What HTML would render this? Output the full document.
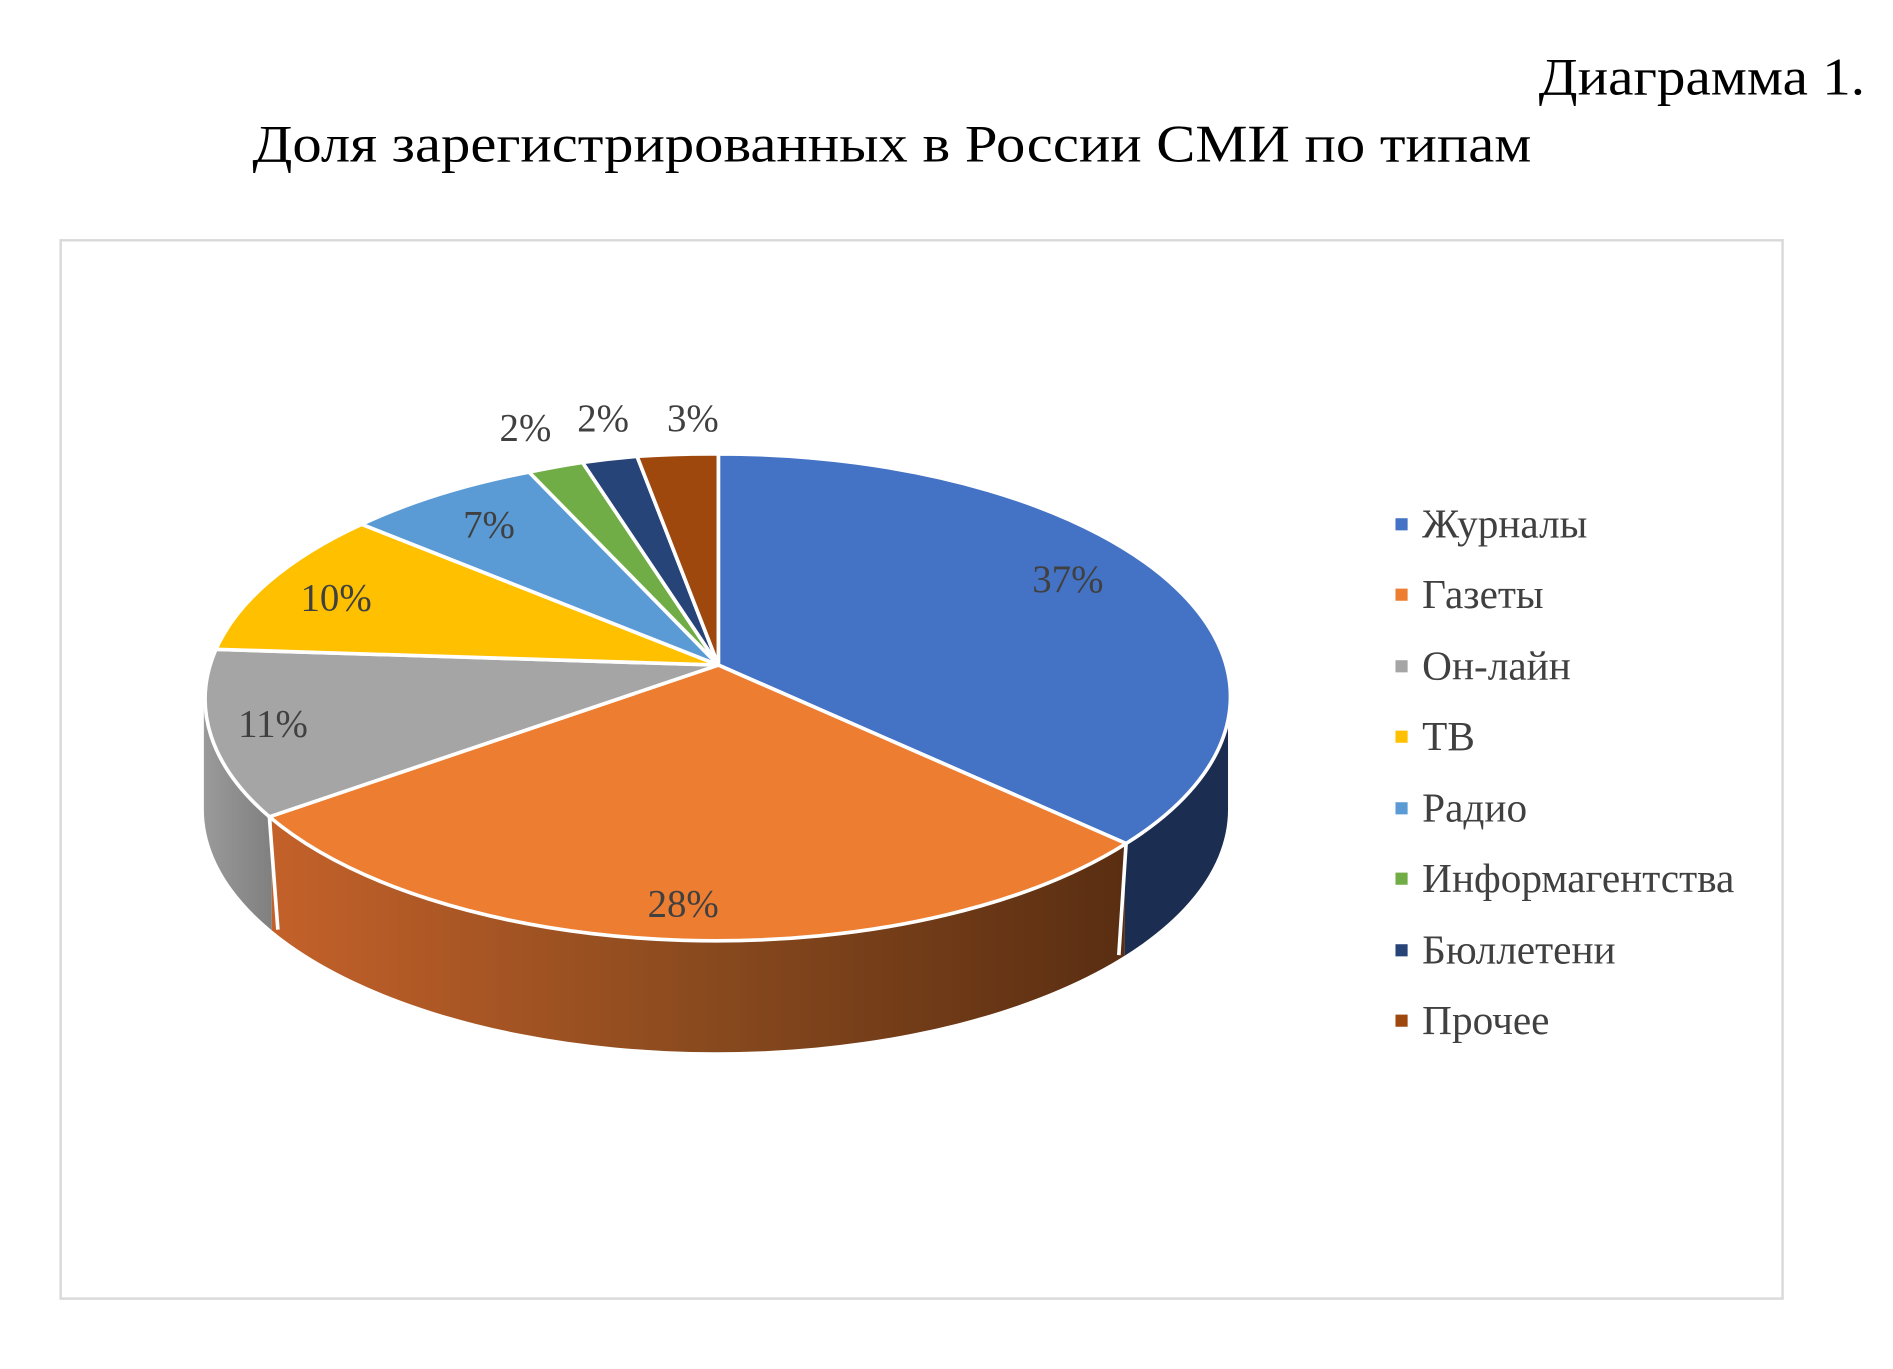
<!DOCTYPE html>
<html><head><meta charset="utf-8"><style>
html,body{margin:0;padding:0;background:#fff;}
svg{display:block;}
</style></head><body>
<svg width="1893" height="1369" viewBox="0 0 1560 1128" xmlns="http://www.w3.org/2000/svg" preserveAspectRatio="none">
<defs>
<linearGradient id="og" x1="222" y1="0" x2="928" y2="0" gradientUnits="userSpaceOnUse">
<stop offset="0" stop-color="#c4612a"/><stop offset="0.5" stop-color="#8a4a1e"/><stop offset="1" stop-color="#5a2e12"/>
</linearGradient>
<linearGradient id="gg" x1="168" y1="0" x2="230" y2="0" gradientUnits="userSpaceOnUse">
<stop offset="0" stop-color="#9a9a9a"/><stop offset="1" stop-color="#7d7d7d"/>
</linearGradient>
<clipPath id="cg"><rect x="0" y="0" width="224" height="1128"/></clipPath>
<clipPath id="co"><rect x="224" y="0" width="703" height="1128"/></clipPath>
<clipPath id="cb"><rect x="927" y="0" width="200" height="1128"/></clipPath>
</defs>
<rect width="1560" height="1128" fill="#fff"/>
<text x="1268" y="78" textLength="269" lengthAdjust="spacingAndGlyphs" font-family="Liberation Serif, serif" font-size="44" fill="#000">Диаграмма 1.</text>
<text x="208" y="133" textLength="1054" lengthAdjust="spacingAndGlyphs" font-family="Liberation Serif, serif" font-size="44" fill="#000">Доля зарегистрированных в России СМИ по типам</text>
<rect x="50" y="198" width="1419" height="872" fill="#fff" stroke="#d9d9d9" stroke-width="2"/>

<g>
<path d="M168,574 A422,200 0 0 0 1012,574 L1012,667 A422,200 0 0 1 168,667 Z" fill="url(#gg)" clip-path="url(#cg)"/>
<path d="M168,574 A422,200 0 0 0 1012,574 L1012,667 A422,200 0 0 1 168,667 Z" fill="url(#og)" clip-path="url(#co)"/>
<path d="M168,574 A422,200 0 0 0 1012,574 L1012,667 A422,200 0 0 1 168,667 Z" fill="#1b2d50" clip-path="url(#cb)"/>
<line x1="222" y1="673" x2="229" y2="766" stroke="#fff" stroke-width="3"/>
<line x1="928" y1="695" x2="922" y2="787" stroke="#fff" stroke-width="3"/>
</g>

<g stroke="#fff" stroke-width="3" stroke-linejoin="round">
<path d="M592,548 L592,374 A422,200 0 0 1 928,695 Z" fill="#4472c4"/>
<path d="M592,548 L928,695 A422,200 0 0 1 222,673 Z" fill="#ed7d31"/>
<path d="M592,548 L222,673 A422,200 0 0 1 178,535 Z" fill="#a5a5a5"/>
<path d="M592,548 L178,535 A422,200 0 0 1 298,432 Z" fill="#ffc000"/>
<path d="M592,548 L298,432 A422,200 0 0 1 436,389 Z" fill="#5b9bd5"/>
<path d="M592,548 L436,389 A422,200 0 0 1 480,381 Z" fill="#70ad47"/>
<path d="M592,548 L480,381 A422,200 0 0 1 525,376 Z" fill="#264478"/>
<path d="M592,548 L525,376 A422,200 0 0 1 592,374 Z" fill="#9e480e"/>
</g>

<g font-family="Liberation Serif, serif" font-size="32" fill="#404040" text-anchor="middle">
<text x="880" y="488">37%</text>
<text x="563" y="755">28%</text>
<text x="225" y="607">11%</text>
<text x="277" y="503">10%</text>
<text x="403" y="443">7%</text>
<text x="433" y="363">2%</text>
<text x="497" y="355">2%</text>
<text x="571" y="355">3%</text>
</g>

<g font-family="Liberation Serif, serif" font-size="34" fill="#404040">
<rect x="1150" y="427" width="10" height="10" fill="#4472c4"/><text x="1172" y="443">Журналы</text>
<rect x="1150" y="485" width="10" height="10" fill="#ed7d31"/><text x="1172" y="501">Газеты</text>
<rect x="1150" y="544" width="10" height="10" fill="#a5a5a5"/><text x="1172" y="560">Он-лайн</text>
<rect x="1150" y="602" width="10" height="10" fill="#ffc000"/><text x="1172" y="618">ТВ</text>
<rect x="1150" y="661" width="10" height="10" fill="#5b9bd5"/><text x="1172" y="677">Радио</text>
<rect x="1150" y="719" width="10" height="10" fill="#70ad47"/><text x="1172" y="735">Информагентства</text>
<rect x="1150" y="778" width="10" height="10" fill="#264478"/><text x="1172" y="794">Бюллетени</text>
<rect x="1150" y="836" width="10" height="10" fill="#9e480e"/><text x="1172" y="852">Прочее</text>
</g>
</svg>
</body></html>
